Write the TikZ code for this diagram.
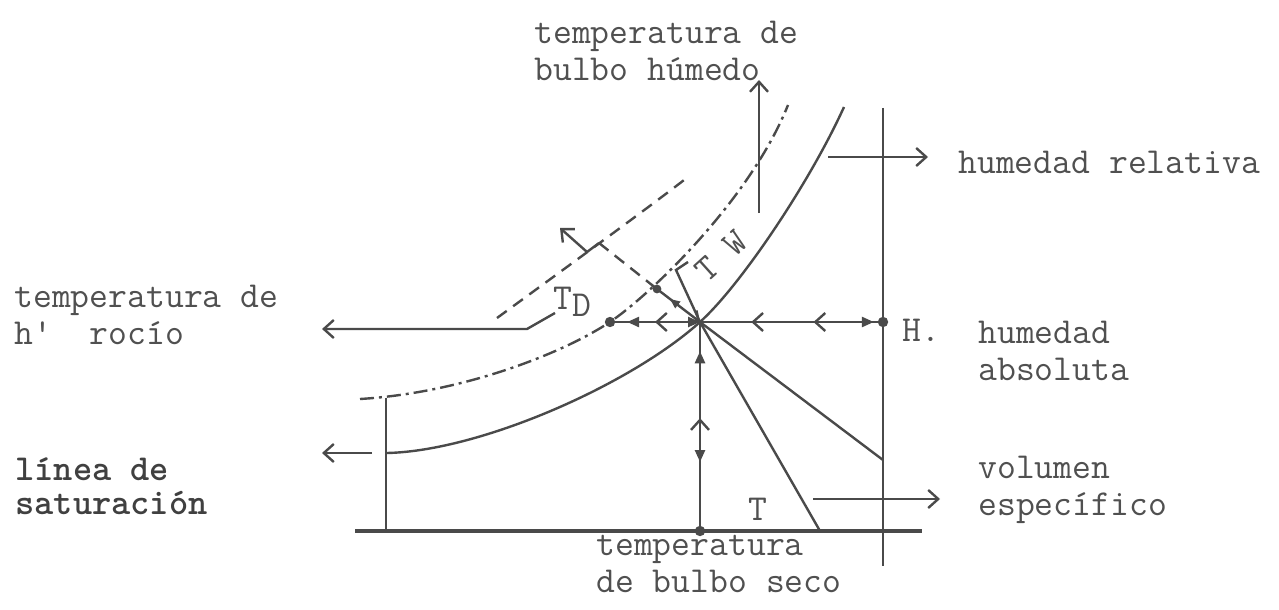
\documentclass[tikz,border=0pt]{standalone}
\usepackage{fontspec}
\usetikzlibrary{arrows.meta,decorations.markings}
\definecolor{lc}{HTML}{4A4A4A}
\definecolor{tc}{HTML}{505050}
\tikzset{
  ln/.style={draw=lc, line width=1.2pt},
  ob/.style={-{Straight Barb[length=5pt,width=9pt]}},
  txt/.style={text=tc, font=\ttfamily\fontsize{18.3}{18.5}\selectfont, inner sep=0pt, align=left, anchor=west},
  btxt/.style={txt, text=black!75, font=\ttfamily\bfseries\fontsize{18.3}{17}\selectfont},
  dashdot/.style={ln, dash pattern=on 7pt off 2.5pt on 1.5pt off 2.5pt},
  dsh/.style={ln, dash pattern=on 6pt off 4pt},
  dotc/.style={fill=lc},
}
\begin{document}
\begin{tikzpicture}[x=0.5pt,y=-0.5pt]
\useasboundingbox (0,0) rectangle (1279,610);
% key points
\coordinate (P) at (700,322);
\coordinate (TD) at (610,322);
\coordinate (H) at (883,322);
\coordinate (B) at (700,531);
\coordinate (Vt) at (883,108);
\coordinate (Vb) at (883,566);
\coordinate (BL) at (355,531);
\coordinate (BR) at (922,531);
\coordinate (LVt) at (386,398);
\coordinate (LVb) at (386,531);
\coordinate (D1) at (820,531);
\coordinate (D2) at (883,460);
\coordinate (HRa) at (828,157);
\coordinate (HRb) at (928,157);
\coordinate (VOa) at (813,499);
\coordinate (VOb) at (940,499);
\coordinate (UPa) at (759,213);
\coordinate (UPb) at (759,80);
\coordinate (Aarr) at (560,228);
\coordinate (K1) at (587,252);
\coordinate (K2) at (599,243);
\coordinate (WD) at (657,289);
\coordinate (BRc) at (676,270);
\coordinate (BRt) at (688,262);
\coordinate (R1) at (555,313);
\coordinate (R2) at (527,329);
\coordinate (R3) at (322,329);
\coordinate (S1) at (372,453);
\coordinate (S2) at (322,453);
\coordinate (SatL) at (387,453);
\coordinate (SatT) at (844,107);
\coordinate (DdL) at (360,399);
\coordinate (DdT) at (788,105);
\coordinate (DsL) at (497,318);
\coordinate (DsT) at (688,177);

% axes and frame lines
\draw[ln, line width=2pt] (BL) -- (BR);
\draw[ln] (Vt) -- (Vb);
\draw[ln] (LVt) -- (LVb);

% saturation curve
\draw[ln] (SatL) .. controls (480,451) and (630,385) .. (P)
                 .. controls (740,286) and (809,184) .. (SatT);
% dash-dot curve
\draw[dashdot] (DdL) .. controls (460,393) and (560,355) .. (TD)
                     .. controls (650,295) and (750,200) .. (DdT);
% dashed curve
\draw[dsh] (DsL) .. controls (560,272) and (640,214) .. (DsT);

% horizontal line through P
\draw[ln, -{Triangle[length=6pt,width=5pt]},
  postaction={decorate, decoration={markings,
    mark=at position 0.19 with {\arrowreversed{Triangle[length=6pt,width=5pt]}},
    mark=at position 0.5 with {\arrowreversed{Straight Barb[length=5pt,width=9pt]}}}}]
  (TD) -- (P);
\draw[ln,
  postaction={decorate, decoration={markings,
    mark=at position 0.28 with {\arrowreversed{Straight Barb[length=5pt,width=9pt]}},
    mark=at position 0.62 with {\arrowreversed{Straight Barb[length=5pt,width=9pt]}},
    mark=at position 0.95 with {\arrow{Triangle[length=6pt,width=5pt]}}}}]
  (P) -- (H);
% vertical line from P
\draw[ln,
  postaction={decorate, decoration={markings,
    mark=at position 0.14 with {\arrowreversed{Triangle[length=6pt,width=5pt]}},
    mark=at position 0.46 with {\arrowreversed{Straight Barb[length=5pt,width=9pt]}},
    mark=at position 0.67 with {\arrow{Triangle[length=6pt,width=5pt]}}}}]
  (P) -- (B);
% diagonals
\draw[ln] (P) -- (D1);
\draw[ln] (P) -- (D2);
% arrows to labels
\draw[ln, ob] (HRa) -- (HRb);
\draw[ln, ob] (VOa) -- (VOb);
\draw[ln, ob] (UPa) -- (UPb);
\draw[ln, ob] (R1) -- (R2) -- (R3);
\draw[ln, ob] (S1) -- (S2);
% perpendicular construction
\draw[ln, ob] (K1) -- (Aarr);
\draw[ln] (K1) -- (K2);
\draw[dsh] (K2) -- (WD);
\draw[ln, -{Straight Barb[length=4pt,width=7pt]},
  postaction={decorate, decoration={markings,
    mark=at position 0.3 with {\arrowreversed{Triangle[length=5pt,width=4pt]}}}}]
  (WD) -- (P);
% TW bracket
\draw[ln] (P) -- (BRc) -- (BRt);
% dots
\fill[dotc] (TD) circle (2.6pt);
\fill[dotc] (H) circle (2.6pt);
\fill[dotc] (B) circle (2.6pt);
\fill[dotc] (WD) circle (2.2pt);

% labels
\node[txt] (lwb) at (534,51) {temperatura de\\bulbo húmedo};
\node[txt] (lhr) at (958,162) {humedad relativa};
\node[txt] (ldew) at (14,315) {temperatura de\\h\textquotesingle~~rocío};
\node[txt] (lH) at (902,330) {H.};
\node[txt] (lha) at (978,351) {humedad\\absoluta};
\node[txt] (lvol) at (978,490) {volumen\\específico};
\node[btxt] (lsat) at (15,486) {línea de\\saturación};
\node[txt] (ldb) at (596,564) {temperatura\\de bulbo seco};
\node[txt, anchor=center] (lT) at (758,509) {T};
\node[txt, anchor=center] (lTD) at (572,302) {T\raisebox{-0.45ex}{D}};
\node[txt, anchor=center, rotate=42] (lTW) at (721,256) {T W};
\end{tikzpicture}
\end{document}
